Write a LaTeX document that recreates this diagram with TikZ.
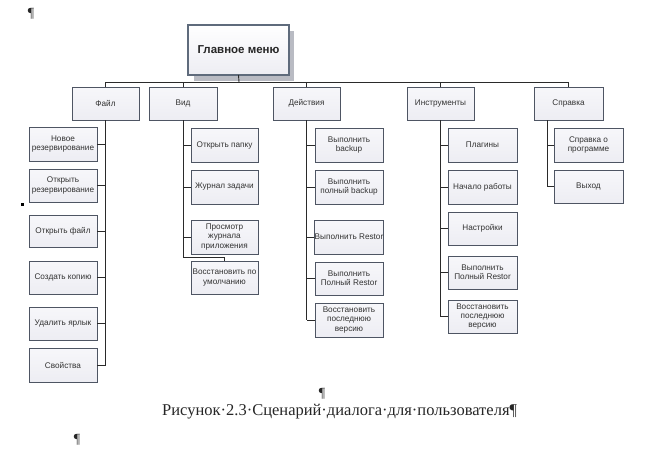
\documentclass[tikz,border=0pt]{standalone}
\usepackage{fontspec}
\setmainfont{Liberation Serif}
\newfontfamily\boxfont{Liberation Sans}
\usetikzlibrary{calc}
\definecolor{boxline}{HTML}{4E5563}
\definecolor{boxfill}{HTML}{EDEDF3}
\definecolor{boxtop}{HTML}{F7F7FA}
\definecolor{mainline}{HTML}{5F6B7C}
\definecolor{shadowc}{HTML}{B9BBC3}
\definecolor{conn}{HTML}{2A2A2A}
\tikzset{
  menubox/.style={draw=boxline, line width=0.7pt, top color=boxtop, bottom color=boxfill,
    inner sep=0.5pt, outer sep=0pt, align=center,
    font=\boxfont\fontsize{8.2}{9.2}\selectfont, text=black!80},
  mainbox/.style={draw=mainline, line width=1.6pt, top color=white, bottom color=boxfill,
    inner sep=1pt, outer sep=0pt, align=center,
    font=\boxfont\bfseries\fontsize{11.5}{13}\selectfont, text=black!85},
  link/.style={draw=conn, line width=0.9pt},
  pilcrow/.style={font=\fontsize{14}{16}\selectfont, text=black!85, inner sep=0pt},
  captext/.style={font=\fontsize{16.5}{18}\selectfont, text=black!85, inner sep=0pt},
}
\newcommand{\menunode}[7][menubox]{%
  \node[#1, minimum width={#5-#3}, minimum height={#6-#4}]
    (#2) at ({(#3+#5)/2},{(#4+#6)/2}) {#7};}
\begin{document}
\begin{tikzpicture}[x=1pt,y=-1pt]
\useasboundingbox (0,0) rectangle (645,460);
% main box with shadow
\fill[shadowc] (194,31) rectangle (294,81);
\menunode[mainbox]{main}{188}{25}{289}{75}{Главное меню}
% top level
\menunode{file}{72}{87}{139}{120}{Файл}
\menunode{vid}{149}{87}{217}{120}{Вид}
\menunode{act}{273}{87}{340}{120}{Действия}
\menunode{inst}{407}{87}{474}{120}{Инструменты}
\menunode{sp}{534}{87}{603}{120}{Справка}
% Файл children
\menunode{fc1}{29}{127}{97}{161}{Новое\\резервирование}
\menunode{fc2}{29}{169}{97}{202}{Открыть\\резервирование}
\menunode{fc3}{29}{215}{97}{247}{Открыть файл}
\menunode{fc4}{29}{261}{97}{294}{Создать копию}
\menunode{fc5}{29}{307}{97}{340}{Удалить ярлык}
\menunode{fc6}{29}{348}{97}{382}{Свойства}
% Вид children
\menunode{vc1}{191}{128}{258}{162}{Открыть папку}
\menunode{vc2}{191}{170}{258}{204}{Журнал задачи}
\menunode{vc3}{191}{220}{258}{254}{Просмотр\\журнала\\приложения}
\menunode{vc4}{191}{261}{258}{294}{Восстановить по\\умолчанию}
% Действия children
\menunode{ac1}{315}{128}{383}{162}{Выполнить\\backup}
\menunode{ac2}{315}{170}{383}{204}{Выполнить\\полный backup}
\menunode{ac3}{315}{220}{383}{254}{Выполнить Restor}
\menunode{ac4}{315}{262}{383}{295}{Выполнить\\Полный Restor}
\menunode{ac5}{315}{303}{383}{337}{Восстановить\\последнюю\\версию}
% Инструменты children
\menunode{ic1}{448}{128}{517}{162}{Плагины}
\menunode{ic2}{448}{170}{517}{204}{Начало работы}
\menunode{ic3}{448}{212}{517}{245}{Настройки}
\menunode{ic4}{448}{256}{517}{289}{Выполнить\\Полный Restor}
\menunode{ic5}{448}{300}{517}{333}{Восстановить\\последнюю\\версию}
% Справка children
\menunode{sc1}{554}{128}{623}{162}{Справка о\\программе}
\menunode{sc2}{554}{170}{623}{203}{Выход}
% connectors: top level
\coordinate (hub) at (239,82);
\draw[link] (main.south) -- (hub);
\draw[link] (file.north) -- (file.north |- hub) -- (sp.north |- hub) -- (sp.north);
\foreach \n in {vid,act,inst} \draw[link] (\n.north) -- (\n.north |- hub);
% Файл
\draw[link] (file.south) -- (file.south |- fc6.east);
\foreach \n in {fc1,fc2,fc3,fc4,fc5,fc6} \draw[link] (\n.east) -- (\n.east -| file.south);
% Вид
\coordinate (vbend) at (183,257);
\draw[link] (vid.south) -- (vbend) -| (vc4.north);
\foreach \n in {vc1,vc2,vc3} \draw[link] (\n.west) -- (\n.west -| vid.south);
% Действия
\draw[link] (act.south) -- (act.south |- ac5.west);
\foreach \n in {ac1,ac2,ac3,ac4,ac5} \draw[link] (\n.west) -- (\n.west -| act.south);
% Инструменты
\draw[link] (inst.south) -- (inst.south |- ic5.west);
\foreach \n in {ic1,ic2,ic3,ic4,ic5} \draw[link] (\n.west) -- (\n.west -| inst.south);
% Справка
\coordinate (stop) at (547,120);
\draw[link] (stop) -- (stop |- sc2.west);
\foreach \n in {sc1,sc2} \draw[link] (\n.west) -- (\n.west -| stop);
% marks and caption
\fill[black] (20.5,202.5) rectangle (23.5,205.5);
\node[pilcrow] (p1) at (31,14) {¶};
\node[pilcrow] (p2) at (322,394) {¶};
\node[pilcrow] (p3) at (77,440) {¶};
\node[captext, anchor=west] (cap) at (162,412) {Рисунок·2.3·Сценарий·диалога·для·пользователя¶};
\end{tikzpicture}
\end{document}
